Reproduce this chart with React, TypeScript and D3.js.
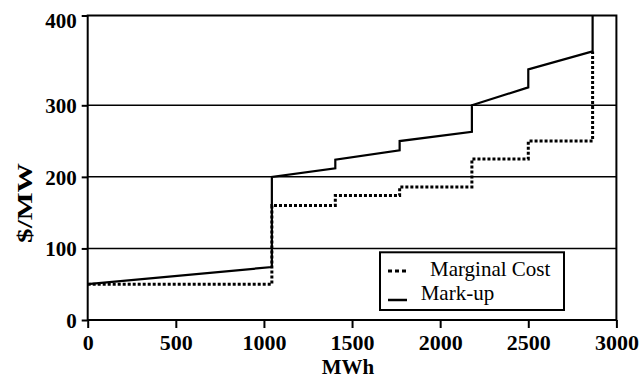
import React, { useEffect, useRef } from 'react';
import * as d3 from 'd3';

// Mark-up supply curve (MWh, $/MW)
const markupMWh = [0, 1045, 1045, 1405, 1405, 1770, 1770, 2180, 2180, 2500, 2500, 2865, 2865];
const markupPrice = [50, 74, 200, 212, 224, 237, 250, 263, 300, 320, 340, 360, 400];

// Marginal cost step curve
const costMWh = [0, 1045, 1045, 1405, 1405, 1770, 1770, 2180, 2180, 2500, 2500, 2865, 2865];
const costPrice = [50, 50, 160, 160, 174, 174, 186, 186, 225, 225, 250, 250, 360];

const xTicks = [0, 500, 1000, 1500, 2000, 2500, 3000];
const yTicks = [0, 100, 200, 300, 400];
const gridValues = [100, 200, 300];

const legendLabels = ['Marginal Cost', 'Mark-up'];

const App: React.FC = () => {
  const svgRef = useRef<SVGSVGElement>(null);

  useEffect(() => {
    if (!svgRef.current) return;
    const svg = d3.select(svgRef.current);
    svg.selectAll('*').remove();

    const left = 87.7;
    const right = 616.4;
    const top = 15.5;
    const bottom = 320;

    const x = d3.scaleLinear().domain([0, 3000]).range([left, right]);
    // the top label sits on the frame, so the last interval is stretched
    const y = d3.scaleLinear().domain([0, 300, 400]).range([bottom, 105.3, top]).clamp(true);

    const serif = '"Liberation Serif", "Times New Roman", serif';

    // gridlines
    svg
      .append('g')
      .selectAll('line')
      .data(gridValues)
      .join('line')
      .attr('x1', left)
      .attr('x2', right)
      .attr('y1', d => y(d))
      .attr('y2', d => y(d))
      .attr('stroke', '#000')
      .attr('stroke-width', 1.5);

    // frame
    svg
      .append('rect')
      .attr('x', left)
      .attr('y', top)
      .attr('width', right - left)
      .attr('height', bottom - top)
      .attr('fill', 'none')
      .attr('stroke', '#000')
      .attr('stroke-width', 2);

    // x axis
    const xAxis = svg
      .append('g')
      .attr('transform', `translate(0,${bottom})`)
      .call(d3.axisBottom(x).tickValues(xTicks).tickSize(8).tickPadding(6.5).tickFormat(d3.format('d')));
    xAxis.select('.domain').remove();
    xAxis.selectAll('line').attr('stroke', '#000').attr('stroke-width', 2);
    xAxis
      .selectAll('text')
      .attr('fill', '#000')
      .style('font-family', serif)
      .style('font-size', '22px')
      .style('font-weight', 'bold');

    // y axis
    const yAxis = svg
      .append('g')
      .attr('transform', `translate(${left},0)`)
      .call(d3.axisLeft(y).tickValues(yTicks).tickSize(6).tickPadding(5).tickFormat(d3.format('d')));
    yAxis.select('.domain').remove();
    yAxis.selectAll('line').attr('stroke', '#000').attr('stroke-width', 2);
    yAxis
      .selectAll('text')
      .attr('fill', '#000')
      .attr('dy', '0.34em')
      .style('font-family', serif)
      .style('font-size', '21px')
      .style('font-weight', 'bold');
    yAxis
      .selectAll<SVGTextElement, number>('text')
      .filter(d => d === 400)
      .attr('dy', '0.55em');

    // axis titles
    svg
      .append('text')
      .attr('x', 348)
      .attr('y', 373.5)
      .attr('text-anchor', 'middle')
      .style('font-family', serif)
      .style('font-size', '21px')
      .style('font-weight', 'bold')
      .text('MWh');

    svg
      .append('text')
      .attr('transform', 'translate(31.5,203) rotate(-90)')
      .attr('text-anchor', 'middle')
      .attr('textLength', 80)
      .attr('lengthAdjust', 'spacingAndGlyphs')
      .style('font-family', serif)
      .style('font-size', '22px')
      .style('font-weight', 'bold')
      .text('$/MW');

    const costPts = costMWh.map((m, i) => [x(m), y(costPrice[i])] as [number, number]);
    const markupPts = markupMWh.map((m, i) => [x(m), y(markupPrice[i])] as [number, number]);

    svg
      .append('path')
      .attr('d', d3.line()(costPts))
      .attr('fill', 'none')
      .attr('stroke', '#000')
      .attr('stroke-width', 3)
      .attr('stroke-dasharray', '3,2');

    svg
      .append('path')
      .attr('d', d3.line()(markupPts))
      .attr('fill', 'none')
      .attr('stroke', '#000')
      .attr('stroke-width', 2.2);

    // legend
    const lg = svg.append('g');
    lg.append('rect')
      .attr('x', 380)
      .attr('y', 252.3)
      .attr('width', 184)
      .attr('height', 57.7)
      .attr('fill', '#fff')
      .attr('stroke', '#000')
      .attr('stroke-width', 2);
    lg.append('line')
      .attr('x1', 388)
      .attr('x2', 407)
      .attr('y1', 271)
      .attr('y2', 271)
      .attr('stroke', '#000')
      .attr('stroke-width', 3)
      .attr('stroke-dasharray', '4,3');
    lg.append('line')
      .attr('x1', 388)
      .attr('x2', 407)
      .attr('y1', 300)
      .attr('y2', 300)
      .attr('stroke', '#000')
      .attr('stroke-width', 2.5);
    lg.selectAll('text')
      .data(legendLabels)
      .join('text')
      .attr('x', (d, i) => (i === 0 ? 430 : 420.7))
      .attr('y', (d, i) => (i === 0 ? 275.7 : 300))
      .style('font-family', serif)
      .style('font-size', '21px')
      .text(d => d);
  }, []);

  return (
    <svg
      ref={svgRef}
      width={642}
      height={378}
      style={{ position: 'absolute', left: 0, top: 0, background: '#fff' }}
    />
  );
};

export default App;
